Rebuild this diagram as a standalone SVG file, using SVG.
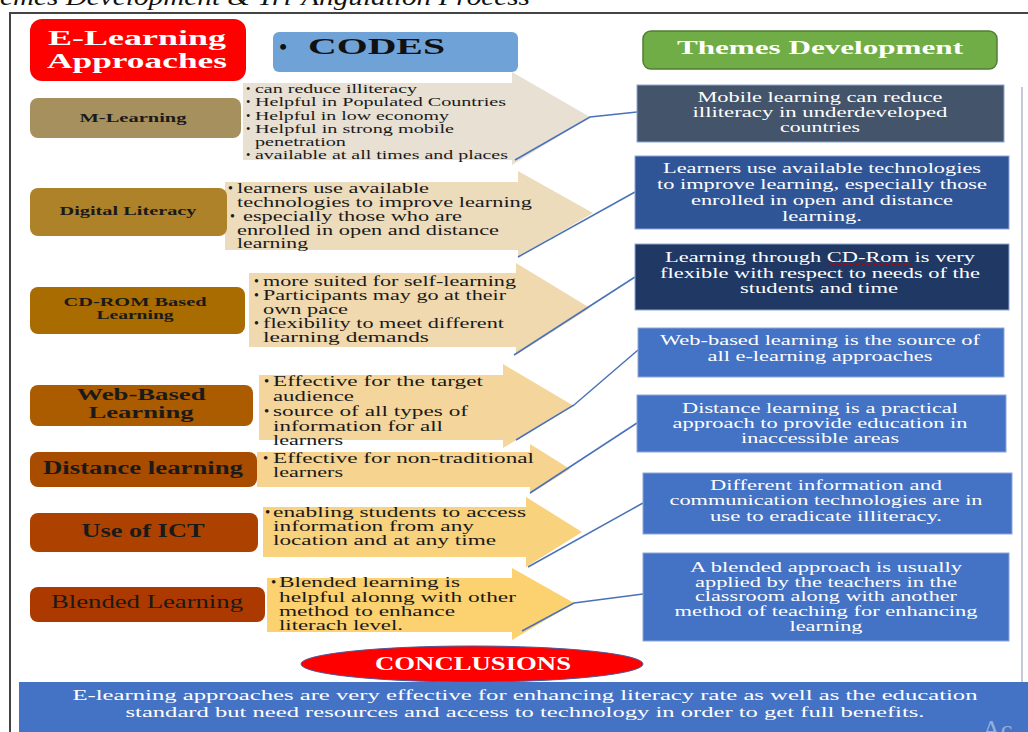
<svg xmlns="http://www.w3.org/2000/svg" width="1028" height="732" viewBox="0 0 1028 732">
<style>
text{font-family:"Liberation Serif","Times New Roman",serif}
.ttl{font-style:italic;font-size:24px;fill:#111}
.hd{font-weight:bold;fill:#fff}
.lbl{font-weight:bold;fill:#1a1a1a;text-anchor:middle}
.lbl.nb{font-weight:normal}
.bt{fill:#1a1a1a}
.s12{font-size:12.5px}.s14{font-size:14px}.s15{font-size:15px}
.th{fill:#fff;font-size:14px;text-anchor:middle}
.theme{stroke:#8ea6d6;stroke-width:1}
.con{fill:none;stroke:#4a72b8;stroke-width:1.5}
.ctr{text-anchor:middle}
</style>
<text class="ttl" x="0" y="5" textLength="530" lengthAdjust="spacingAndGlyphs">emes Development &amp; Tri-Angulation Process</text>
<path d="M10,732 V13 H1028" fill="none" stroke="#444" stroke-width="2"/>
<line x1="1022" y1="87" x2="1022" y2="682" stroke="#c5cad6" stroke-width="2"/>

<g id="header-approaches">
<rect x="30" y="19" width="216" height="62" rx="12" fill="#ff0000"/>
<text class="hd ctr" x="137" y="45" font-size="21" textLength="178" lengthAdjust="spacingAndGlyphs">E-Learning</text>
<text class="hd ctr" x="137" y="68" font-size="21" textLength="180" lengthAdjust="spacingAndGlyphs">Approaches</text>
</g>
<g id="header-codes">
<rect x="273" y="32" width="245" height="40" rx="6" fill="#6fa3d8"/>
<text x="283" y="54" font-size="22" font-weight="bold" fill="#111" text-anchor="middle">•</text>
<text x="308" y="54" font-size="24" font-weight="bold" fill="#111" textLength="137" lengthAdjust="spacingAndGlyphs">CODES</text>
</g>
<g id="header-themes">
<rect x="643" y="31" width="354" height="38" rx="8" fill="#70ad47" stroke="#507e32" stroke-width="1.5"/>
<text class="hd ctr" x="820" y="54" font-size="19" textLength="286" lengthAdjust="spacingAndGlyphs">Themes Development</text>
</g>

<g id="code-mlearning">
<polygon points="243,83 512,83 512,72 590,117 512,165 512,160 243,160" fill="#e7e0d3"/>
<g class="bt s12">
<text x="246" y="93">•</text><text x="255" y="93" textLength="162" lengthAdjust="spacingAndGlyphs">can reduce illiteracy</text>
<text x="246" y="106">•</text><text x="255" y="106" textLength="251" lengthAdjust="spacingAndGlyphs">Helpful in Populated Countries</text>
<text x="246" y="120">•</text><text x="255" y="120" textLength="194" lengthAdjust="spacingAndGlyphs">Helpful in low economy</text>
<text x="246" y="133">•</text><text x="255" y="133" textLength="199" lengthAdjust="spacingAndGlyphs">Helpful in strong mobile</text>
<text x="255" y="146" textLength="91" lengthAdjust="spacingAndGlyphs">penetration</text>
<text x="246" y="159">•</text><text x="255" y="159" textLength="253" lengthAdjust="spacingAndGlyphs">available at all times and places</text>
</g>
</g>
<g id="code-digital">
<polygon points="225,182 518,182 518,171 593,213 518,257 518,250 225,250" fill="#eddcbb"/>
<g class="bt s14">
<text x="228" y="193">•</text><text x="237" y="193" textLength="192" lengthAdjust="spacingAndGlyphs">learners use available</text>
<text x="237" y="207" textLength="295" lengthAdjust="spacingAndGlyphs">technologies to improve learning</text>
<text x="230" y="221">•</text><text x="243" y="221" textLength="219" lengthAdjust="spacingAndGlyphs">especially those who are</text>
<text x="237" y="235" textLength="262" lengthAdjust="spacingAndGlyphs">enrolled in open and distance</text>
<text x="237" y="248" textLength="71" lengthAdjust="spacingAndGlyphs">learning</text>
</g>
</g>
<g id="code-cdrom">
<polygon points="249,273 516,273 516,263 590,308 516,355 516,347 249,347" fill="#f0d9ae"/>
<g class="bt s14">
<text x="254" y="286">•</text><text x="263" y="286" textLength="253" lengthAdjust="spacingAndGlyphs">more suited for self-learning</text>
<text x="254" y="300">•</text><text x="263" y="300" textLength="243" lengthAdjust="spacingAndGlyphs">Participants may go at their</text>
<text x="263" y="314" textLength="85" lengthAdjust="spacingAndGlyphs">own pace</text>
<text x="254" y="328">•</text><text x="263" y="328" textLength="241" lengthAdjust="spacingAndGlyphs">flexibility to meet different</text>
<text x="263" y="342" textLength="166" lengthAdjust="spacingAndGlyphs">learning demands</text>
</g>
</g>
<g id="code-web">
<polygon points="259,375 503,375 503,364 574,406 503,448 503,440 259,440" fill="#f4d69c"/>
<g class="bt s15">
<text x="264" y="386">•</text><text x="273" y="386" textLength="210" lengthAdjust="spacingAndGlyphs">Effective for the target</text>
<text x="273" y="401" textLength="81" lengthAdjust="spacingAndGlyphs">audience</text>
<text x="264" y="416">•</text><text x="273" y="416" textLength="195" lengthAdjust="spacingAndGlyphs">source of all types of</text>
<text x="273" y="431" textLength="170" lengthAdjust="spacingAndGlyphs">information for all</text>
<text x="273" y="445" textLength="70" lengthAdjust="spacingAndGlyphs">learners</text>
</g>
</g>
<g id="code-distance">
<polygon points="257,452 530,452 530,444 570,469 530,494 530,487 257,487" fill="#f6d48f"/>
<g class="bt s15">
<text x="263" y="463">•</text><text x="273" y="463" textLength="261" lengthAdjust="spacingAndGlyphs">Effective for non-traditional</text>
<text x="273" y="477" textLength="70" lengthAdjust="spacingAndGlyphs">learners</text>
</g>
</g>
<g id="code-ict">
<polygon points="263,507 526,507 526,497 582,532 526,567 526,557 263,557" fill="#f9d27e"/>
<g class="bt s15">
<text x="265" y="517">•</text><text x="273" y="517" textLength="253" lengthAdjust="spacingAndGlyphs">enabling students to access</text>
<text x="273" y="531" textLength="201" lengthAdjust="spacingAndGlyphs">information from any</text>
<text x="273" y="545" textLength="223" lengthAdjust="spacingAndGlyphs">location and at any time</text>
</g>
</g>
<g id="code-blended">
<polygon points="267,578 512,578 512,568 574,603 512,640 512,632 267,632" fill="#fcd170"/>
<g class="bt s15">
<text x="271" y="587">•</text><text x="279" y="587" textLength="181" lengthAdjust="spacingAndGlyphs">Blended learning is</text>
<text x="279" y="602" textLength="237" lengthAdjust="spacingAndGlyphs">helpful alonng with other</text>
<text x="279" y="616" textLength="176" lengthAdjust="spacingAndGlyphs">method to enhance</text>
<text x="279" y="630" textLength="124" lengthAdjust="spacingAndGlyphs">literach level.</text>
</g>
</g>

<g id="approach-mlearning">
<rect x="30" y="98" width="211" height="40" rx="8" fill="#a6905e"/>
<text class="lbl" x="133" y="122" font-size="13" textLength="107" lengthAdjust="spacingAndGlyphs">M-Learning</text>
</g>
<g id="approach-digital">
<rect x="30" y="188" width="197" height="48" rx="8" fill="#ae8229"/>
<text class="lbl" x="128" y="215" font-size="13" textLength="137" lengthAdjust="spacingAndGlyphs">Digital Literacy</text>
</g>
<g id="approach-cdrom">
<rect x="30" y="287" width="215" height="47" rx="8" fill="#a86c00"/>
<text class="lbl" x="135" y="306" font-size="12" textLength="143" lengthAdjust="spacingAndGlyphs">CD-ROM Based</text>
<text class="lbl" x="135" y="319" font-size="12" textLength="77" lengthAdjust="spacingAndGlyphs">Learning</text>
</g>
<g id="approach-web">
<rect x="30" y="385" width="223" height="41" rx="8" fill="#ab5b00"/>
<text class="lbl" x="141" y="400" font-size="16.5" textLength="129" lengthAdjust="spacingAndGlyphs">Web-Based</text>
<text class="lbl" x="141" y="418" font-size="16.5" textLength="105" lengthAdjust="spacingAndGlyphs">Learning</text>
</g>
<g id="approach-distance">
<rect x="30" y="452" width="227" height="35" rx="8" fill="#a84c00"/>
<text class="lbl" x="143" y="474" font-size="18" textLength="200" lengthAdjust="spacingAndGlyphs">Distance learning</text>
</g>
<g id="approach-ict">
<rect x="30" y="513" width="228" height="39" rx="8" fill="#ad4200"/>
<text class="lbl" x="143" y="537" font-size="18" textLength="123" lengthAdjust="spacingAndGlyphs">Use of ICT</text>
</g>
<g id="approach-blended">
<rect x="30" y="587" width="235" height="35" rx="8" fill="#ab3900"/>
<text class="lbl nb" x="147" y="608" font-size="18" textLength="192" lengthAdjust="spacingAndGlyphs">Blended Learning</text>
</g>

<g id="connectors">
<polyline class="con" points="515,160 590,117 637,112"/>
<polyline class="con" points="518,257 635,192"/>
<polyline class="con" points="514,355 635,277"/>
<polyline class="con" points="516,440 574,405 638,350"/>
<polyline class="con" points="530,493 637,423"/>
<polyline class="con" points="528,567 643,503"/>
<polyline class="con" points="522,631 574,603 643,594"/>
</g>

<g id="theme-mobile">
<rect class="theme" x="637" y="85" width="367" height="57" fill="#44546a"/>
<text class="th" x="820" y="102" textLength="245" lengthAdjust="spacingAndGlyphs">Mobile learning can reduce</text>
<text class="th" x="820" y="117" textLength="255" lengthAdjust="spacingAndGlyphs">illiteracy in underdeveloped</text>
<text class="th" x="820" y="132" textLength="80" lengthAdjust="spacingAndGlyphs">countries</text>
</g>
<g id="theme-digital">
<rect class="theme" x="635" y="156" width="374" height="73" fill="#2f5597"/>
<text class="th" x="822" y="173" textLength="318" lengthAdjust="spacingAndGlyphs">Learners use available technologies</text>
<text class="th" x="822" y="189" textLength="330" lengthAdjust="spacingAndGlyphs">to improve learning, especially those</text>
<text class="th" x="822" y="205" textLength="262" lengthAdjust="spacingAndGlyphs">enrolled in open and distance</text>
<text class="th" x="822" y="221" textLength="80" lengthAdjust="spacingAndGlyphs">learning.</text>
</g>
<g id="theme-cdrom">
<rect class="theme" x="635" y="244" width="374" height="66" fill="#203864"/>
<text class="th" x="820" y="262" textLength="310" lengthAdjust="spacingAndGlyphs">Learning through CD-Rom is very</text>
<text class="th" x="820" y="278" textLength="320" lengthAdjust="spacingAndGlyphs">flexible with respect to needs of the</text>
<text class="th" x="819" y="293" textLength="158" lengthAdjust="spacingAndGlyphs">students and time</text>
<polyline points="827,265 830,263 833,265 836,263 839,265 842,263 845,265 848,263 851,265 854,263 857,265 860,263 863,265 866,263 869,265 872,263 875,265 878,263 881,265 884,263 887,265 890,263 893,265 896,263 899,265 902,263 905,265 908,263 911,265" fill="none" stroke="#c00000" stroke-width="1"/>
</g>
<g id="theme-web">
<rect class="theme" x="638" y="328" width="366" height="49" fill="#4472c4"/>
<text class="th" x="820" y="345" textLength="320" lengthAdjust="spacingAndGlyphs">Web-based learning is the source of</text>
<text class="th" x="820" y="361" textLength="225" lengthAdjust="spacingAndGlyphs">all e-learning approaches</text>
</g>
<g id="theme-distance">
<rect class="theme" x="637" y="395" width="369" height="57" fill="#4472c4"/>
<text class="th" x="820" y="413" textLength="276" lengthAdjust="spacingAndGlyphs">Distance learning is a practical</text>
<text class="th" x="820" y="428" textLength="295" lengthAdjust="spacingAndGlyphs">approach to provide education in</text>
<text class="th" x="820" y="443" textLength="158" lengthAdjust="spacingAndGlyphs">inaccessible areas</text>
</g>
<g id="theme-ict">
<rect class="theme" x="643" y="473" width="369" height="61" fill="#4472c4"/>
<text class="th" x="826" y="490" textLength="232" lengthAdjust="spacingAndGlyphs">Different information and</text>
<text class="th" x="826" y="505" textLength="313" lengthAdjust="spacingAndGlyphs">communication technologies are in</text>
<text class="th" x="826" y="521" textLength="232" lengthAdjust="spacingAndGlyphs">use to eradicate illiteracy.</text>
</g>
<g id="theme-blended">
<rect class="theme" x="643" y="553" width="366" height="88" fill="#4472c4"/>
<text class="th" x="826" y="572" textLength="272" lengthAdjust="spacingAndGlyphs">A blended approach is usually</text>
<text class="th" x="826" y="587" textLength="262" lengthAdjust="spacingAndGlyphs">applied by the teachers in the</text>
<text class="th" x="826" y="601" textLength="262" lengthAdjust="spacingAndGlyphs">classroom along with another</text>
<text class="th" x="826" y="616" textLength="303" lengthAdjust="spacingAndGlyphs">method of teaching for enhancing</text>
<text class="th" x="826" y="631" textLength="73" lengthAdjust="spacingAndGlyphs">learning</text>
</g>

<g id="conclusions">
<ellipse cx="472" cy="664" rx="171" ry="18" fill="#ff0000" stroke="#4a5a9a" stroke-width="1"/>
<text class="hd ctr" x="473" y="670" font-size="18" textLength="196" lengthAdjust="spacingAndGlyphs">CONCLUSIONS</text>
</g>
<g id="conclusion-text">
<rect x="19" y="682" width="1009" height="50" fill="#4472c4"/>
<text class="ctr" x="525" y="700" font-size="15" fill="#fff" textLength="905" lengthAdjust="spacingAndGlyphs">E-learning approaches are very effective for enhancing literacy rate as well as the education</text>
<text class="ctr" x="525" y="717" font-size="15" fill="#fff" textLength="799" lengthAdjust="spacingAndGlyphs">standard but need resources and access to technology in order to get full benefits.</text>
<text x="982" y="738" font-family="'Liberation Sans',Arial,sans-serif" font-size="26" fill="#ffffff" fill-opacity="0.45">Ac</text>
</g>
</svg>
